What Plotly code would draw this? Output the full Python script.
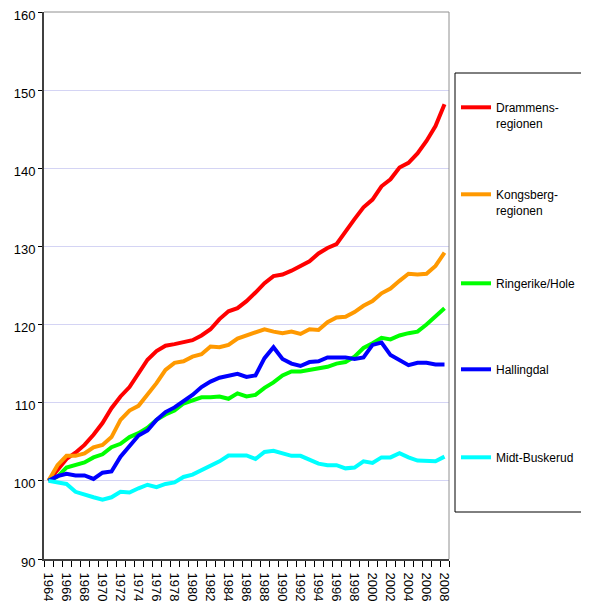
import plotly.graph_objects as go

years = list(range(1964, 2009))

drammens = [100, 101.4, 102.8, 103.6, 104.6, 105.9, 107.4, 109.3, 110.8, 112.0,
            113.7, 115.5, 116.6, 117.3, 117.5, 117.7, 118.0, 118.6, 119.4, 120.7,
            121.7, 122.1, 123.0, 124.1, 125.3, 126.2, 126.4, 126.9, 127.5, 128.1,
            129.1, 129.8, 130.3, 132.0, 133.5, 135.0, 136.0, 137.7, 138.6, 140.1,
            140.7, 141.9, 143.5, 145.4, 148.2]
kongsberg = [100, 102.0, 103.2, 103.2, 103.5, 104.3, 104.6, 105.6, 107.8, 109.0,
             109.6, 111.0, 112.5, 114.2, 115.1, 115.3, 115.9, 116.2, 117.2, 117.1,
             117.4, 118.2, 118.6, 119.1, 119.4, 119.1, 118.9, 119.1, 118.8, 119.4,
             119.3, 120.3, 120.9, 121.0, 121.6, 122.4, 123.0, 124.0, 124.6, 125.6,
             126.5, 126.4, 126.5, 127.5, 129.2]
ringerike = [100, 100.55, 101.7, 102.05, 102.35, 103.0, 103.4, 104.3, 104.75, 105.6,
             106.1, 106.8, 107.8, 108.5, 109.0, 109.9, 110.3, 110.7, 110.7, 110.8,
             110.5, 111.2, 110.8, 111.0, 111.9, 112.6, 113.5, 114.0, 114.0, 114.2,
             114.4, 114.6, 115.0, 115.2, 115.9, 117.0, 117.6, 118.3, 118.1, 118.6,
             118.9, 119.1, 120.0, 121.1, 122.1]
hallingdal = [100, 100.6, 100.9, 100.7, 100.7, 100.25, 101.05, 101.2, 103.1, 104.4,
              105.8, 106.45, 107.8, 108.8, 109.4, 110.2, 111.0, 112.0, 112.7, 113.2,
              113.5, 113.7, 113.3, 113.5, 115.7, 117.1, 115.6, 115.0, 114.7, 115.2,
              115.3, 115.8, 115.8, 115.8, 115.6, 115.8, 117.4, 117.7, 116.1, 115.5,
              114.8, 115.1, 115.1, 114.9, 114.9]
midt = [100, 99.85, 99.6, 98.6, 98.2, 97.9, 97.6, 97.9, 98.6, 98.5,
        99.05, 99.5, 99.2, 99.6, 99.8, 100.5, 100.8, 101.4, 102.0, 102.5,
        103.25, 103.25, 103.25, 102.8, 103.7, 103.85, 103.5, 103.2, 103.2, 102.7,
        102.2, 102.0, 102.0, 101.6, 101.7, 102.5, 102.3, 103.0, 103.0, 103.55,
        103.0, 102.6, 102.5, 102.5, 103.1]

names = ["Drammens-<br>regionen", "Kongsberg-<br>regionen", "Ringerike/Hole",
         "Hallingdal", "Midt-Buskerud"]
series = [drammens, kongsberg, ringerike, hallingdal, midt]
colors = ["#FF0000", "#FF9900", "#00FF00", "#0000FF", "#00FFFF"]
legend_ids = ["legend", "legend2", "legend3", "legend4", "legend5"]
legend_px_y = [107, 194, 283, 369, 457]

FONT = "Liberation Sans, Arial, sans-serif"
# plot area in page pixels: x 44..449, y 12..559 ; page body has an 8px offset
OFF = 8
PX0, PX1, PY0, PY1 = 44, 449, 12, 559
pw, ph = PX1 - PX0, PY1 - PY0
W, H = 589 - OFF, 601 - OFF
L, T = PX0 - OFF, PY0 - OFF
R, B = W - L - pw, H - T - ph


def px_x(x):
    return (x - PX0) / pw


def px_y(y):
    return (PY1 - y) / ph


fig = go.Figure()
for nm, ys, c, lg in zip(names, series, colors, legend_ids):
    fig.add_trace(go.Scatter(x=years, y=ys, mode="lines", name=nm,
                             line=dict(color=c, width=4), legend=lg))

layout_legends = {}
for lg, py in zip(legend_ids, legend_px_y):
    layout_legends[lg] = dict(
        x=px_x(456), xanchor="left",
        y=px_y(py - 14), yanchor="top",
        bgcolor="rgba(0,0,0,0)", borderwidth=0,
        font=dict(family=FONT, size=12, color="black"),
        valign="top", itemwidth=30,
    )

fig.update_layout(
    width=W, height=H,
    margin=dict(l=L, r=R, t=T, b=B, autoexpand=False),
    paper_bgcolor="white", plot_bgcolor="white",
    font=dict(family=FONT, size=13, color="black"),
    showlegend=True,
    **layout_legends,
    xaxis=dict(
        range=[1963.5, 2008.5], tickvals=list(range(1964, 2009, 2)),
        ticktext=[str(y) for y in range(1964, 2009, 2)],
        tickangle=90, ticks="outside", ticklen=1, tickcolor="rgba(0,0,0,0)",
        ticklabelstandoff=8, automargin=False, ticklabeloverflow="allow",
        minor=dict(tick0=1963.5, dtick=1, ticks="outside", ticklen=6,
                   tickcolor="black", tickwidth=1, showgrid=False),
        showgrid=False, zeroline=False,
        showline=True, linecolor="#404040", linewidth=2,
        tickfont=dict(family=FONT, size=13, color="black"),
    ),
    yaxis=dict(
        range=[90, 160], dtick=10, tick0=90, automargin=False,
        ticklabeloverflow="allow", ticklabelshift=3,
        ticks="outside", ticklen=4, tickcolor="black",
        showgrid=True, gridcolor="#D4D4F4", gridwidth=1,
        zeroline=False, showline=True, linecolor="#404040", linewidth=2,
        tickfont=dict(family=FONT, size=13, color="black"),
    ),
    shapes=[
        dict(type="line", xref="paper", yref="paper", x0=0, x1=1, y0=1, y1=1,
             line=dict(color="#909090", width=1)),
        dict(type="line", xref="paper", yref="paper", x0=1, x1=1, y0=0, y1=1,
             line=dict(color="#909090", width=1)),
        dict(type="rect", xref="paper", yref="paper",
             x0=px_x(455), x1=px_x(585), y0=px_y(512), y1=px_y(73),
             line=dict(color="black", width=1), fillcolor="rgba(0,0,0,0)"),
    ],
)

fig.write_html("out.html")
